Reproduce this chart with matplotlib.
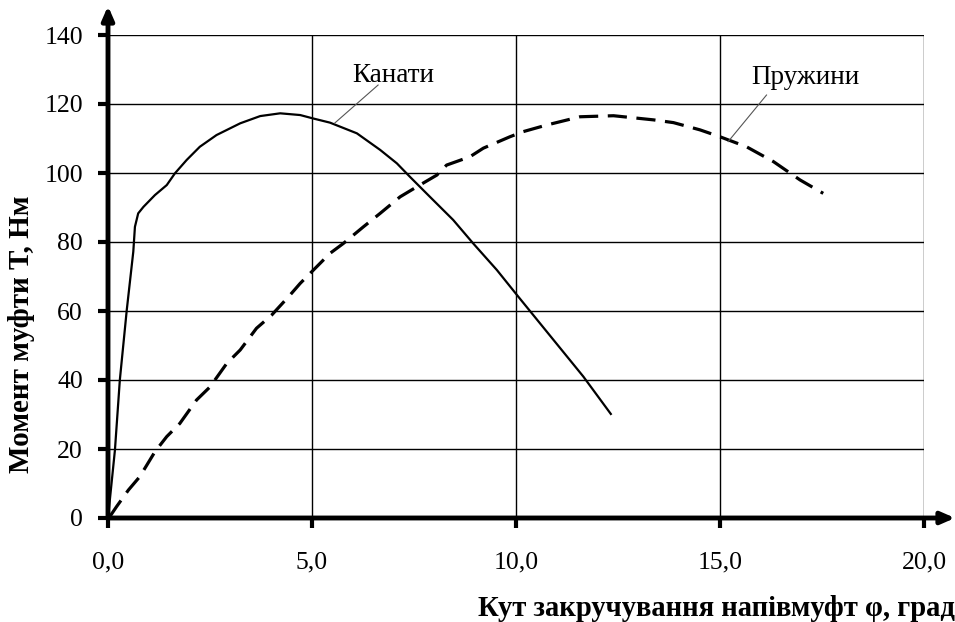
import matplotlib
matplotlib.use("Agg")
import matplotlib.pyplot as plt

# Data
kanaty_x = [0.0, 0.17, 0.29, 0.46, 0.62, 0.66, 0.74, 0.87, 1.15, 1.44, 1.64, 1.93, 2.25, 2.66, 3.24,
            3.73, 4.22, 4.71, 5.03, 5.44, 6.1, 6.67, 7.08, 7.4, 7.89, 8.46, 8.95, 9.53, 10.06, 11.65, 12.34]
kanaty_y = [0.0, 19.7, 40.0, 60.3, 77.2, 84.4, 88.3, 90.2, 93.6, 96.5, 99.9, 103.8, 107.6, 111.0, 114.4,
            116.5, 117.3, 116.8, 115.8, 114.6, 111.5, 106.7, 102.8, 98.9, 93.1, 86.4, 79.6, 71.9, 64.1, 41.0, 29.9]

pruzh_x = [0.05, 0.21, 0.5, 0.78, 1.15, 1.44, 1.76, 2.17, 2.5, 2.91, 3.24, 3.64, 4.01, 4.46, 4.71,
           5.44, 5.77, 6.26, 6.67, 7.16, 7.57, 8.06, 8.3, 8.87, 9.2, 9.85, 10.18, 10.75, 11.57, 12.39,
           13.37, 13.86, 14.51, 15.0, 15.65, 16.31, 16.96, 17.53]
pruzh_y = [0.5, 3.3, 8.1, 12.0, 19.2, 23.6, 27.4, 34.2, 38.0, 44.8, 48.7, 55.0, 58.8, 64.6, 68.0,
           76.7, 79.6, 84.4, 88.3, 93.1, 96.0, 99.4, 102.3, 104.7, 107.2, 110.5, 112.0, 113.9, 116.3, 116.6,
           115.4, 114.6, 112.5, 110.5, 107.6, 103.3, 98.0, 94.1]

x_ticks = [0, 5, 10, 15, 20]
x_ticklabels = ["0,0", "5,0", "10,0", "15,0", "20,0"]
y_ticks = [0, 20, 40, 60, 80, 100, 120, 140]

W, H = 955, 622
fig = plt.figure(figsize=(W / 100, H / 100), dpi=100)
left, right, top, bottom = 108, 924, 35, 518
ax = fig.add_axes([left / W, 1 - bottom / H, (right - left) / W, (bottom - top) / H])

serif = ["Liberation Serif", "DejaVu Serif"]

ax.set_xlim(0, 20)
ax.set_ylim(0, 140)
for s in ax.spines.values():
    s.set_visible(False)

ax.set_xticks(x_ticks)
ax.set_xticklabels(x_ticklabels, family=serif, fontsize=18.5)
ax.set_yticks(y_ticks)
ax.set_yticklabels([str(v) for v in y_ticks], family=serif, fontsize=18.5)
ax.tick_params(axis="x", direction="out", length=7, width=3, pad=17, color="black")
ax.tick_params(axis="y", direction="out", length=7, width=3, pad=11, color="black")
ax.grid(True, color="black", linewidth=1.0)
ax.set_axisbelow(True)

# Axis arrows
ax.annotate("", xy=(1.0 + 31 / (right - left), 0), xycoords="axes fraction",
            xytext=(0, 0), textcoords="axes fraction",
            arrowprops=dict(arrowstyle="-|>,head_length=0.8,head_width=0.35", lw=3.5, color="black",
                            shrinkA=0, shrinkB=0), annotation_clip=False)
ax.annotate("", xy=(0, 1.0 + 29 / (bottom - top)), xycoords="axes fraction",
            xytext=(0, 0), textcoords="axes fraction",
            arrowprops=dict(arrowstyle="-|>,head_length=0.8,head_width=0.35", lw=3.5, color="black",
                            shrinkA=0, shrinkB=0), annotation_clip=False)

ax.plot(kanaty_x, kanaty_y, color="black", linewidth=1.6, solid_capstyle="butt", zorder=3)
ax.plot(pruzh_x, pruzh_y, color="black", linewidth=2.3, linestyle=(0, (6, 3)), zorder=3)

# Labels with leader lines
ax.text(7.0, 128.4, "Канати", family=serif, fontsize=19.5, ha="center", va="center")
ax.plot([6.62, 5.56], [125.5, 114.5], color="#555555", linewidth=0.8, zorder=4)
ax.text(17.1, 127.8, "Пружини", family=serif, fontsize=19.5, ha="center", va="center")
ax.plot([16.14, 15.2], [122.6, 109.1], color="#555555", linewidth=0.8, zorder=4)

fig.text(22 / W, 1 - 334 / H, "Момент муфти Т, Нм", rotation=90, family=serif,
         fontsize=21, fontweight="bold", ha="center", va="center")
fig.text(955 / W, 1 - 609 / H, "Кут закручування напівмуфт φ, град", family=serif,
         fontsize=20.6, fontweight="bold", ha="right", va="center")

fig.savefig("out.png", dpi=100)
